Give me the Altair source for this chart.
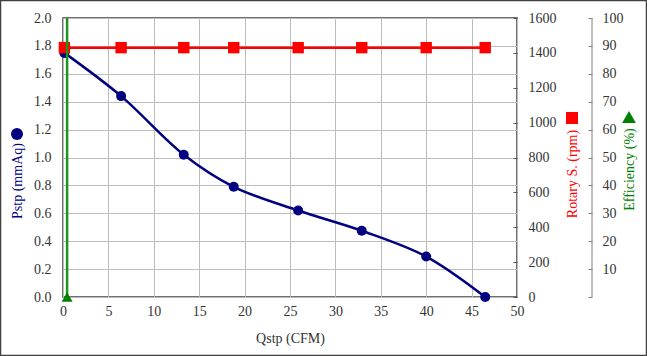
import altair as alt
import pandas as pd

# ---- data ----
q_cfm = [0.15, 6.4, 13.3, 18.8, 25.9, 32.9, 40.0, 46.5]
pstp_mmaq = [1.75, 1.44, 1.02, 0.79, 0.62, 0.475, 0.29, 0.0]
rotary_rpm = [1430, 1430, 1430, 1430, 1430, 1430, 1430, 1430]
eff_q = [0.45, 0.45]
eff_pct = [0, 100]

x_ticks = [0, 5, 10, 15, 20, 25, 30, 35, 40, 45, 50]
p_ticks = [0.0, 0.2, 0.4, 0.6, 0.8, 1.0, 1.2, 1.4, 1.6, 1.8, 2.0]
rpm_ticks = [0, 200, 400, 600, 800, 1000, 1200, 1400, 1600]
eff_ticks = [0, 10, 20, 30, 40, 50, 60, 70, 80, 90, 100]

W, H = 454, 279
FONT = "Liberation Serif"
NAVY = "#000080"
RED = "#ff0000"
GREEN = "#008000"
GRID = "#bdbdbd"

df = pd.DataFrame({"q": q_cfm, "p": pstp_mmaq, "rpm": rotary_rpm})
df_eff = pd.DataFrame({"q": eff_q, "eff": eff_pct})
one = pd.DataFrame({"a": [0]})

xenc = alt.X(
    "q:Q",
    scale=alt.Scale(domain=[0, 50], nice=False, zero=False),
    axis=alt.Axis(values=x_ticks, title="Qstp (CFM)", grid=True, ticks=False,
                  domain=False, labelPadding=7, titleY=41,
                  titleBaseline="middle", labelFlush=False),
)

yp = alt.Y(
    "p:Q",
    scale=alt.Scale(domain=[0, 2], nice=False),
    axis=alt.Axis(orient="left", values=p_ticks, format=".1f",
                  title="Pstp (mmAq)", titleColor=NAVY, titleAngle=-90,
                  titleX=-46, titleY=162.5, titleAlign="center",
                  titleBaseline="middle", grid=True, ticks=False,
                  domain=False, labelPadding=12),
)

yr = alt.Y(
    "rpm:Q",
    scale=alt.Scale(domain=[0, 1600], nice=False),
    axis=alt.Axis(orient="right", offset=-4, values=rpm_ticks, format="d",
                  title="Rotary S. (rpm)", titleColor=RED, titleAngle=-90,
                  titleX=59.5, titleY=155.5, titleAlign="center",
                  titleBaseline="middle", grid=False, domain=False,
                  ticks=True, tickSize=4, labelPadding=11),
)

ye = alt.Y(
    "eff:Q",
    scale=alt.Scale(domain=[0, 100], nice=False),
    axis=alt.Axis(orient="right", offset=71, values=eff_ticks,
                  labelExpr="datum.value == 0 ? '' : datum.label",
                  title="Efficiency (%)", titleColor=GREEN, titleAngle=-90,
                  titleX=41, titleY=151, titleAlign="center",
                  titleBaseline="middle", grid=False, domain=False,
                  ticks=True, tickSize=4, tickColor="#808080",
                  labelPadding=10),
)

blue = alt.Chart(df).mark_line(
    color=NAVY, strokeWidth=2.5, interpolate="catmull-rom",
    point=alt.OverlayMarkDef(shape="circle", filled=True, size=100,
                             color=NAVY, opacity=1),
).encode(x=xenc, y=yp)

red = alt.Chart(df).mark_line(
    color=RED, strokeWidth=2.5,
    point=alt.OverlayMarkDef(shape="square", filled=True, size=130,
                             color=RED, opacity=1),
).encode(x=xenc, y=yr)

green_line = alt.Chart(df_eff).mark_line(color="#1e961e", strokeWidth=2.5).encode(x=xenc, y=ye)
green_pt = alt.Chart(df_eff.iloc[:1]).mark_point(
    shape="triangle-up", filled=True, size=120, color=GREEN, opacity=1
).encode(x=xenc, y=ye)
green = alt.layer(green_line, green_pt)

# decorations: outer frame, efficiency axis line, legend markers by titles
border = alt.Chart(one).mark_rect(
    fillOpacity=0, stroke="#404040", strokeWidth=1.5
).encode(x=alt.value(-62.5), x2=alt.value(583.5), y=alt.value(-17.5), y2=alt.value(337.5))

eff_domain = alt.Chart(one).mark_rule(color="#808080", strokeWidth=1).encode(
    x=alt.value(W + 75), y=alt.value(0), y2=alt.value(H))

mk_circle = alt.Chart(one).mark_point(shape="circle", filled=True, size=144, color=NAVY, opacity=1).encode(
    x=alt.value(-46), y=alt.value(116))
mk_square = alt.Chart(one).mark_point(shape="square", filled=True, size=144, color=RED, opacity=1).encode(
    x=alt.value(509), y=alt.value(100))
mk_tri = alt.Chart(one).mark_point(shape="triangle-up", filled=True, size=190, color=GREEN, opacity=1).encode(
    x=alt.value(566), y=alt.value(99))

chart = alt.layer(
    border, blue, red, green, eff_domain, mk_circle, mk_square, mk_tri
).resolve_scale(y="independent").properties(
    width=W, height=H,
    padding={"left": 63, "top": 18, "right": 130, "bottom": 59},
    autosize=alt.AutoSizeParams(type="none"),
    background="white",
).configure_axis(
    labelFont=FONT, labelFontSize=14, labelColor="#333333",
    titleFont=FONT, titleFontSize=14, titleFontWeight="normal",
    titleColor="#333333",
    gridColor=GRID, gridWidth=1, tickColor="#555555",
).configure_view(stroke="#404040", strokeWidth=1.5)

chart.save("out.html", embed_options={"renderer": "svg", "actions": False})
